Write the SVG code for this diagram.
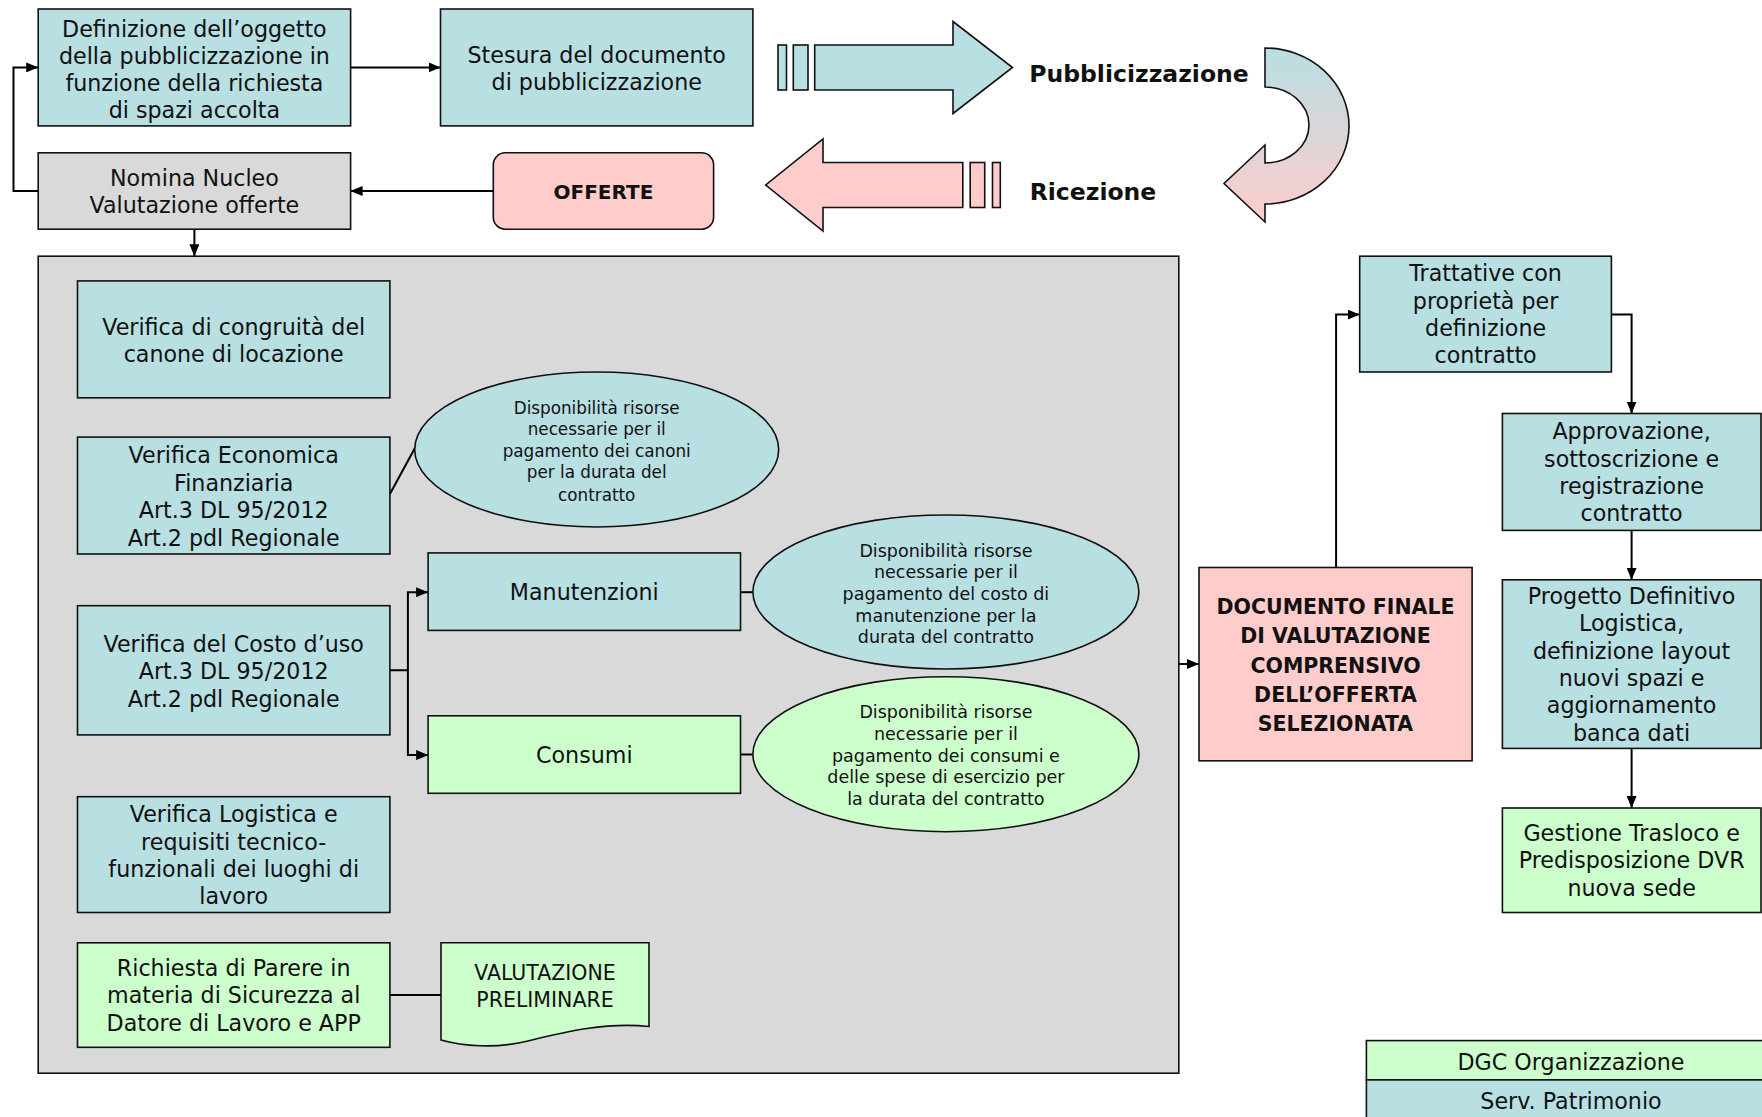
<svg xmlns="http://www.w3.org/2000/svg" width="1762" height="1117" viewBox="0 0 1762 1117">
<style>
.t{fill:#d9d9d9}
.b{fill:#b8dfe2;stroke:#111;stroke-width:1.6}
.g{fill:#ccffcc;stroke:#111;stroke-width:1.6}
.p{fill:#ffcccc;stroke:#111;stroke-width:1.6}
.gr{fill:#d9d9d9;stroke:#111;stroke-width:1.6}
text{font-family:"DejaVu Sans",sans-serif;fill:#111;text-anchor:middle}
.f22{font-size:22.2px}
.f17{font-size:16.8px}
.f175{font-size:17.5px}
.bd{font-weight:bold}
.c{fill:none;stroke:#000;stroke-width:2}
</style>
<defs>
<marker id="ah" viewBox="0 0 12 10" refX="12" refY="5" markerWidth="12" markerHeight="10" markerUnits="userSpaceOnUse" orient="auto">
<path d="M0,0 L12,5 L0,10 z" fill="#000"/>
</marker>
<linearGradient id="ug" x1="0" y1="0" x2="0" y2="1">
<stop offset="0" stop-color="#b8dfe2"/>
<stop offset="1" stop-color="#ffcccc"/>
</linearGradient>
</defs>
<rect width="1762" height="1117" fill="#fff"/>

<g id="panel"><rect class="gr" x="38.2" y="256.2" width="1140.6" height="817"/></g>

<g id="connectors">
<path class="c" d="M350.6,67.4 H440.5" marker-end="url(#ah)"/>
<path class="c" d="M38.2,191 H13.5 V67.4 H38.2" marker-end="url(#ah)"/>
<path class="c" d="M493.3,191 H350.6" marker-end="url(#ah)"/>
<path class="c" d="M194.4,229.2 V256.2" marker-end="url(#ah)"/>
<path class="c" d="M389.9,494 L415.5,447"/>
<path class="c" d="M389.9,670.3 H407.9 V592.2 H428.1" marker-end="url(#ah)"/>
<path class="c" d="M407.9,670.3 V755.1 H428.1" marker-end="url(#ah)"/>
<path class="c" d="M740.5,592.2 H752.7"/>
<path class="c" d="M740.5,754.5 H752.7"/>
<path class="c" d="M389.9,995 H441"/>
<path class="c" d="M1178.8,664 H1199" marker-end="url(#ah)"/>
<path class="c" d="M1336.1,567.5 V314.6 H1359.7" marker-end="url(#ah)"/>
<path class="c" d="M1611.4,314.6 H1631.6 V413.5" marker-end="url(#ah)"/>
<path class="c" d="M1631.6,530.4 V579.8" marker-end="url(#ah)"/>
<path class="c" d="M1631.6,748.4 V808" marker-end="url(#ah)"/>
</g>

<g id="definizione">
<rect class="b" x="38.2" y="9" width="312.4" height="116.9"/>
<text class="f22" x="194.4" y="37">Definizione dell’oggetto</text>
<text class="f22" x="194.4" y="64">della pubblicizzazione in</text>
<text class="f22" x="194.4" y="91">funzione della richiesta</text>
<text class="f22" x="194.4" y="118">di spazi accolta</text>
</g>

<g id="stesura">
<rect class="b" x="440.5" y="9" width="312.4" height="116.9"/>
<text class="f22" x="596.7" y="63">Stesura del documento</text>
<text class="f22" x="596.7" y="90">di pubblicizzazione</text>
</g>

<g id="arrow-pubblicizzazione">
<rect class="b" x="778" y="45" width="8.5" height="45"/>
<rect class="b" x="793.3" y="45" width="14.7" height="45"/>
<path class="b" d="M814.7,45 H953 V21.5 L1012.5,67.5 L953,113.5 V90 H814.7 Z"/>
<text class="bd" x="1139" y="82" style="font-size:23.5px">Pubblicizzazione</text>
</g>

<g id="uturn">
<path d="M1265,48 A84,78 0 0 1 1265,204 L1265,222 L1224,183.5 L1265,145 L1265,163 A44,38 0 0 0 1265,87 Z" fill="url(#ug)" stroke="#111" stroke-width="1.6"/>
</g>

<g id="arrow-ricezione">
<path class="p" d="M962.8,162.5 H823 V139 L765.7,185 L823,231 V207.5 H962.8 Z"/>
<rect class="p" x="970.2" y="162.5" width="14.5" height="45"/>
<rect class="p" x="992.5" y="162.5" width="7.8" height="45"/>
<text class="bd" x="1093" y="200" style="font-size:23.5px">Ricezione</text>
</g>

<g id="offerte">
<rect class="p" x="493.3" y="152.8" width="220.3" height="76.4" rx="12"/>
<text class="bd" x="603.4" y="198.5" style="font-size:20px">OFFERTE</text>
</g>

<g id="nomina">
<rect class="gr" x="38.2" y="152.8" width="312.4" height="76.4"/>
<text class="f22" x="194.4" y="185.5">Nomina Nucleo</text>
<text class="f22" x="194.4" y="212.5">Valutazione offerte</text>
</g>

<g id="congruita">
<rect class="b" x="77.5" y="280.9" width="312.4" height="116.9"/>
<text class="f22" x="233.7" y="335">Verifica di congruità del</text>
<text class="f22" x="233.7" y="362">canone di locazione</text>
</g>

<g id="economica">
<rect class="b" x="77.5" y="437.1" width="312.4" height="116.9"/>
<text class="f22" x="233.7" y="463">Verifica Economica</text>
<text class="f22" x="233.7" y="490.5">Finanziaria</text>
<text class="f22" x="233.7" y="518">Art.3 DL 95/2012</text>
<text class="f22" x="233.7" y="545.5">Art.2 pdl Regionale</text>
</g>

<g id="ellisse-canoni">
<ellipse class="b" cx="596.7" cy="449.5" rx="182" ry="77.5"/>
<text class="f17" x="596.7" y="413.5">Disponibilità risorse</text>
<text class="f17" x="596.7" y="435">necessarie per il</text>
<text class="f17" x="596.7" y="456.7">pagamento dei canoni</text>
<text class="f17" x="596.7" y="478.4">per la durata del</text>
<text class="f17" x="596.7" y="500.5">contratto</text>
</g>

<g id="costo">
<rect class="b" x="77.5" y="605.7" width="312.4" height="129.2"/>
<text class="f22" x="233.7" y="651.5">Verifica del Costo d’uso</text>
<text class="f22" x="233.7" y="679">Art.3 DL 95/2012</text>
<text class="f22" x="233.7" y="706.5">Art.2 pdl Regionale</text>
</g>

<g id="manutenzioni">
<rect class="b" x="428.1" y="552.9" width="312.4" height="77.5"/>
<text class="f22" x="584.3" y="600">Manutenzioni</text>
</g>

<g id="consumi">
<rect class="g" x="428.1" y="715.8" width="312.4" height="77.5"/>
<text class="f22" x="584.3" y="762.5">Consumi</text>
</g>

<g id="ellisse-manutenzione">
<ellipse class="b" cx="945.9" cy="592" rx="193" ry="77"/>
<text class="f175" x="945.9" y="556.7">Disponibilità risorse</text>
<text class="f175" x="945.9" y="578.3">necessarie per il</text>
<text class="f175" x="945.9" y="600">pagamento  del costo di</text>
<text class="f175" x="945.9" y="621.7">manutenzione  per la</text>
<text class="f175" x="945.9" y="643.3">durata del contratto</text>
</g>

<g id="ellisse-consumi">
<ellipse class="g" cx="945.9" cy="754.2" rx="193" ry="77.5"/>
<text class="f175" x="945.9" y="718.3">Disponibilità risorse</text>
<text class="f175" x="945.9" y="740">necessarie per il</text>
<text class="f175" x="945.9" y="761.7">pagamento dei consumi e</text>
<text class="f175" x="945.9" y="783.3">delle spese di esercizio per</text>
<text class="f175" x="945.9" y="805">la durata del contratto</text>
</g>

<g id="logistica">
<rect class="b" x="77.5" y="796.7" width="312.4" height="115.8"/>
<text class="f22" x="233.7" y="822">Verifica Logistica e</text>
<text class="f22" x="233.7" y="849.5">requisiti tecnico-</text>
<text class="f22" x="233.7" y="877">funzionali dei luoghi di</text>
<text class="f22" x="233.7" y="904">lavoro</text>
</g>

<g id="richiesta">
<rect class="g" x="77.5" y="942.8" width="312.4" height="104.5"/>
<text class="f22" x="233.7" y="975.5">Richiesta di Parere in</text>
<text class="f22" x="233.7" y="1003">materia di Sicurezza al</text>
<text class="f22" x="233.7" y="1030.5">Datore di Lavoro e APP</text>
</g>

<g id="valutazione-preliminare">
<path class="g" d="M441,942.8 H649 V1026.5 C605,1022 565,1032 528,1041 C495,1049 462,1046 441,1040 Z"/>
<text x="545" y="980" style="font-size:20.5px">VALUTAZIONE</text>
<text x="545" y="1007" style="font-size:20.5px">PRELIMINARE</text>
</g>

<g id="documento-finale">
<rect class="p" x="1199" y="567.5" width="273.1" height="193.3"/>
<text class="bd" x="1335.5" y="614" style="font-size:20.5px">DOCUMENTO FINALE</text>
<text class="bd" x="1335.5" y="643.3" style="font-size:20.5px">DI VALUTAZIONE</text>
<text class="bd" x="1335.5" y="672.5" style="font-size:20.5px">COMPRENSIVO</text>
<text class="bd" x="1335.5" y="701.7" style="font-size:20.5px">DELL’OFFERTA</text>
<text class="bd" x="1335.5" y="731" style="font-size:20.5px">SELEZIONATA</text>
</g>

<g id="trattative">
<rect class="b" x="1359.7" y="256.2" width="251.7" height="115.8"/>
<text class="f22" x="1485.6" y="281">Trattative con</text>
<text class="f22" x="1485.6" y="308.5">proprietà per</text>
<text class="f22" x="1485.6" y="336">definizione</text>
<text class="f22" x="1485.6" y="363">contratto</text>
</g>

<g id="approvazione">
<rect class="b" x="1502.4" y="413.5" width="258.6" height="116.9"/>
<text class="f22" x="1631.6" y="439">Approvazione,</text>
<text class="f22" x="1631.6" y="466.5">sottoscrizione e</text>
<text class="f22" x="1631.6" y="494">registrazione</text>
<text class="f22" x="1631.6" y="521">contratto</text>
</g>

<g id="progetto">
<rect class="b" x="1502.4" y="579.8" width="258.6" height="168.6"/>
<text class="f22" x="1631.6" y="603.5">Progetto Definitivo</text>
<text class="f22" x="1631.6" y="631">Logistica,</text>
<text class="f22" x="1631.6" y="658.5">definizione layout</text>
<text class="f22" x="1631.6" y="686">nuovi spazi e</text>
<text class="f22" x="1631.6" y="713">aggiornamento</text>
<text class="f22" x="1631.6" y="740.5">banca dati</text>
</g>

<g id="gestione">
<rect class="g" x="1502.4" y="808" width="258.6" height="104.5"/>
<text class="f22" x="1631.6" y="840.5">Gestione Trasloco e</text>
<text class="f22" x="1631.6" y="868">Predisposizione DVR</text>
<text class="f22" x="1631.6" y="895.5">nuova sede</text>
</g>

<g id="legenda">
<rect class="g" x="1366.4" y="1040.6" width="420" height="39.3"/>
<text class="f22" x="1571" y="1069.5">DGC Organizzazione</text>
<rect class="b" x="1366.4" y="1079.9" width="420" height="60"/>
<text class="f22" x="1571" y="1109">Serv. Patrimonio</text>
</g>
</svg>
